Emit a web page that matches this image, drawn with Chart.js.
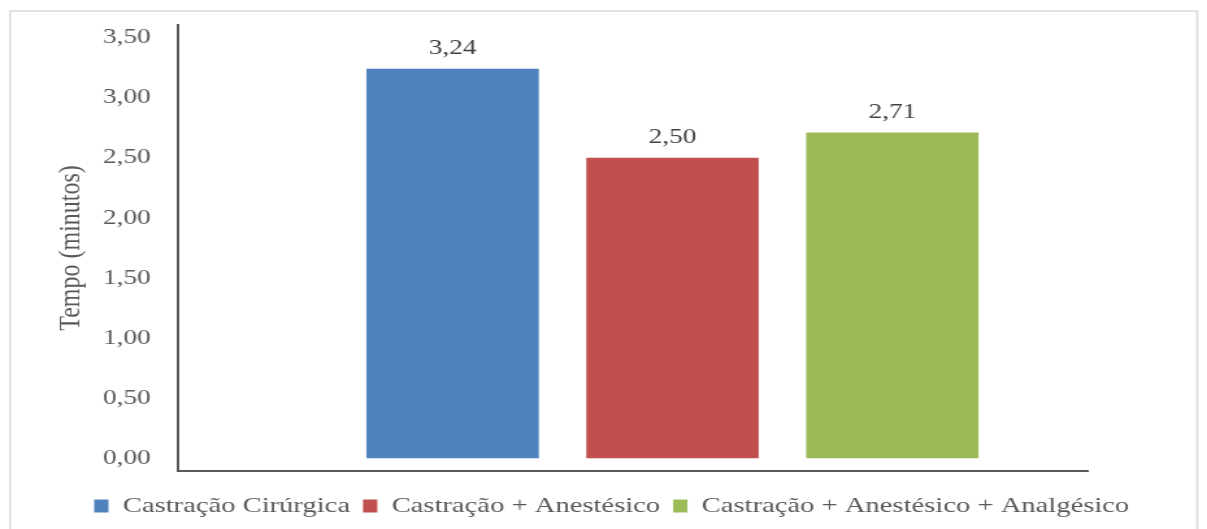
<!DOCTYPE html>
<html>
<head>
<meta charset="utf-8">
<title>Tempo de castração</title>
<script src="https://cdn.jsdelivr.net/npm/chart.js@4.4.1/dist/chart.umd.min.js"></script>
<style>
  html, body { margin: 0; padding: 0; background: #fff; overflow: hidden; }
  /* the figure is drawn narrow and stretched sideways, like the original plate */
  #wrap { width: 929px; height: 529px; transform: scaleX(1.2993); transform-origin: 0 0; }
</style>
</head>
<body>
<div id="wrap"><canvas id="chart"></canvas></div>
<script>
var categorias = ['Castração Cirúrgica', 'Castração + Anestésico', 'Castração + Anestésico + Analgésico'];
var tempos = [3.24, 2.50, 2.71];
var cores = ['#4F81BD', '#C0504D', '#9BBB59'];
var yTicks = [0, 0.5, 1, 1.5, 2, 2.5, 3, 3.5];

function fmt(v) { return v.toFixed(2).replace('.', ','); }

// thin grey frame around the whole figure
var moldura = {
  id: 'moldura',
  beforeDraw: function(chart) {
    var ctx = chart.ctx;
    ctx.save();
    ctx.strokeStyle = '#d9d9d9';
    ctx.lineWidth = 1.5;
    ctx.strokeRect(7.7, 11, 913.8, 540);
    ctx.restore();
  }
};

// value written above each bar
var rotulos = {
  id: 'rotulos',
  afterDatasetsDraw: function(chart) {
    var ctx = chart.ctx;
    ctx.save();
    ctx.font = '21px "Liberation Serif"';
    ctx.fillStyle = '#404040';
    ctx.textAlign = 'center';
    ctx.textBaseline = 'alphabetic';
    chart.data.datasets.forEach(function(ds, i) {
      var bar = chart.getDatasetMeta(i).data[0];
      ctx.fillText(fmt(ds.data[0].y), bar.x, bar.y - 15);
    });
    ctx.restore();
  }
};

var datasets = categorias.map(function(c, i) {
  return {
    label: c,
    data: [{ x: i, y: tempos[i] }],
    backgroundColor: cores[i],
    borderWidth: 0
  };
});

new Chart(document.getElementById('chart'), {
  type: 'bar',
  data: { datasets: datasets },
  options: {
    responsive: true,
    maintainAspectRatio: false,
    animation: false,
    grouped: false,
    barThickness: 132,
    layout: { padding: { left: 36, right: 23.4, top: 25, bottom: 2 } },
    plugins: {
      tooltip: { enabled: false },
      legend: {
        position: 'bottom',
        labels: {
          font: { family: 'Liberation Serif', size: 22 },
          color: '#595959',
          boxWidth: 11,
          boxHeight: 13,
          padding: 10
        }
      }
    },
    scales: {
      x: {
        type: 'linear',
        min: -1.25,
        max: 2.892,
        offset: false,
        afterFit: function(s) { s.height = 14; },
        grid: { display: false, drawTicks: false },
        ticks: { display: false },
        border: { color: '#595959', width: 2 }
      },
      y: {
        min: -0.108,
        max: 3.608,
        afterBuildTicks: function(s) {
          s.ticks = yTicks.map(function(v) { return { value: v }; });
        },
        afterFit: function(s) { s.width = 100.9; },
        // tick marks are not drawn, their length only spaces the labels off the axis
        grid: { display: false, drawTicks: true, tickLength: 18 },
        border: { color: '#595959', width: 2 },
        ticks: {
          padding: 3,
          color: '#595959',
          font: { family: 'Liberation Serif', size: 21 },
          callback: function(v) { return fmt(v); }
        },
        title: {
          display: true,
          text: 'Tempo (minutos)',
          color: '#595959',
          font: { family: 'Liberation Serif', size: 24 },
          padding: { top: 4, bottom: 4 }
        }
      },
      // empty strip on the right so the plot ends short of the legend's edge
      margem: {
        position: 'right',
        grid: { display: false, drawTicks: false },
        ticks: { display: false },
        border: { display: false },
        afterFit: function(s) { s.width = 67.9; }
      }
    }
  },
  plugins: [moldura, rotulos]
});
</script>
</body>
</html>
